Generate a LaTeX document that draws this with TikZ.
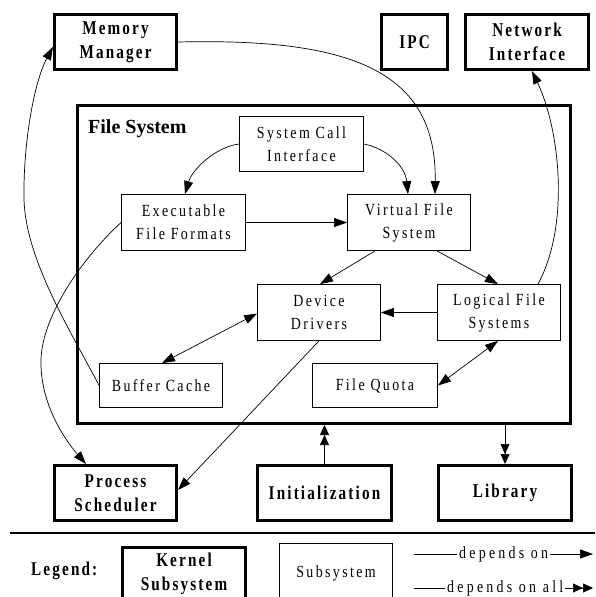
\documentclass[tikz,border=0pt]{standalone}
\usepackage{fontspec}
\setmainfont{Liberation Serif}
\newfontfamily\spacedreg[FakeStretch=0.82,LetterSpace=14]{Liberation Serif}
\newfontfamily\spacedleg[FakeStretch=0.82,LetterSpace=19]{Liberation Serif}
\newfontfamily\spacedbold[FakeStretch=0.78,LetterSpace=11]{Liberation Serif}
\newcommand\mykfont{\spacedbold\bfseries\fontsize{19.5}{24}\selectfont}
\newcommand\mysfont{\spacedreg\fontsize{17}{23}\selectfont}
\newcommand\mylfont{\spacedleg\fontsize{17}{23}\selectfont}
\usetikzlibrary{arrows.meta,calc}
\begin{document}
\begin{tikzpicture}[x=1pt,y=-1pt,
  kernel/.style={draw,line width=3pt,inner sep=0pt,align=center,font=\mykfont},
  subsys/.style={draw,line width=0.8pt,inner sep=0pt,align=center,font=\mysfont},
  conn/.style={line width=0.7pt},
  dep/.style={conn,-{Triangle[length=13pt,width=9pt]}},
  depb/.style={conn,{Triangle[length=13pt,width=9pt]}-{Triangle[length=13pt,width=9pt]}},
  depall/.style={conn,-{Triangle[length=10pt,width=9pt]Triangle[length=10pt,width=9pt]}}]
\clip (0,0) rectangle (595,597);
% kernel subsystems
\node[kernel,minimum width=122pt,minimum height=55pt] (mem) at (115.5,42) {Memory\\Manager};
\node[kernel,minimum width=66pt,minimum height=55pt] (ipc) at (414.5,42) {IPC};
\node[kernel,minimum width=123pt,minimum height=55pt] (net) at (527,42) {Network\\Interface};
\node[kernel,minimum width=493pt,minimum height=318pt] (fs) at (324,264.5) {};
\node[anchor=base west,inner sep=0pt,font=\bfseries\fontsize{20}{24}\selectfont] (fst) at (88,133) {File System};
\node[kernel,minimum width=122pt,minimum height=55pt] (ps) at (115.5,493) {Process\\Scheduler};
\node[kernel,minimum width=134pt,minimum height=55pt] (init) at (324.5,493) {Initialization};
\node[kernel,minimum width=133pt,minimum height=55pt] (lib) at (505,493) {Library};
% subsystems
\node[subsys,minimum width=124pt,minimum height=55pt] (sci) at (301.5,144) {System Call\\Interface};
\node[subsys,minimum width=124pt,minimum height=56pt] (exe) at (183.5,222.5) {Executable\\File Formats};
\node[subsys,minimum width=123pt,minimum height=56pt] (vfs) at (409,222.5) {Virtual File\\System};
\node[subsys,minimum width=123pt,minimum height=56pt] (dd) at (319,312.5) {Device\\Drivers};
\node[subsys,minimum width=123pt,minimum height=56pt] (lfs) at (499,312.5) {Logical File\\Systems};
\node[subsys,minimum width=123pt,minimum height=44pt] (bc) at (161,385.5) {Buffer Cache};
\node[subsys,minimum width=125pt,minimum height=44pt] (fq) at (375,385.5) {File Quota};
% connectors
\draw[dep] (mem.east) .. controls (350,38) and (437,70) .. ($(vfs.north)+(26,0)$);
\draw[dep] (sci.west) .. controls (215,147) and (192,170) .. ($(exe.north)+(1.5,0)$);
\draw[dep] (sci.east) .. controls (385,148) and (405,165) .. ($(vfs.north)+(-1,0)$);
\draw[dep] (exe.east) -- (vfs.west);
\draw[dep] ($(vfs.south)+(-34,0)$) -- ($(dd.north)+(1,0)$);
\draw[dep] ($(vfs.south)+(28,0)$) -- ($(lfs.north)+(-1,0)$);
\draw[dep] (lfs.west) -- (dd.east);
\draw[depb] ($(dd.west)+(0,1)$) -- ($(bc.north)+(1,0)$);
\draw[depb] ($(lfs.south)+(-1,0)$) -- (fq.east);
\draw[dep] ($(lfs.north)+(39,0)$) .. controls (570,225) and (560,130) .. ($(net.south)+(5,0)$);
\draw[dep] (bc.west) .. controls (70,330) and (26,260) .. (24,200) .. controls (23,140) and (35,80) .. ($(mem.west)+(0,5)$);
\draw[dep] (exe.west) .. controls (80,260) and (40,320) .. (41,363) .. controls (41,405) and (65,440) .. ($(ps.north)+(-29.5,0)$);
\draw[dep] (dd.south) -- ($(ps.east)+(0,-3)$);
\draw[depall] (init.north) -- (fs.south -| init.north);
\draw[depall] (fs.south -| lib.north) -- (lib.north);
% legend
\coordinate (r1) at (10,533);
\coordinate (r2) at (595,533);
\draw[line width=1.2pt] (r1) -- (r2);
\node[anchor=base west,inner sep=0pt,font=\mykfont] (leg) at (31,575) {Legend:};
\node[kernel,minimum width=123pt,minimum height=53pt] (lk) at (184,574) {Kernel\\Subsystem};
\node[subsys,minimum width=113pt,minimum height=59pt] (ls) at (336,573) {Subsystem};
\coordinate (d1a) at (414,554);
\coordinate (d1b) at (593,554);
\node[anchor=west,inner sep=2pt,font=\mylfont] (dep1) at (457,554) {depends on};
\draw[conn] (d1a) -- (dep1.west);
\draw[dep] (dep1.east) -- (d1b);
\coordinate (d2a) at (414,588);
\coordinate (d2b) at (593,588);
\node[anchor=west,inner sep=2pt,font=\mylfont] (dep2) at (445,588) {depends on all};
\draw[conn] (d2a) -- (dep2.west);
\draw[depall] (dep2.east) -- (d2b);
\end{tikzpicture}
\end{document}
